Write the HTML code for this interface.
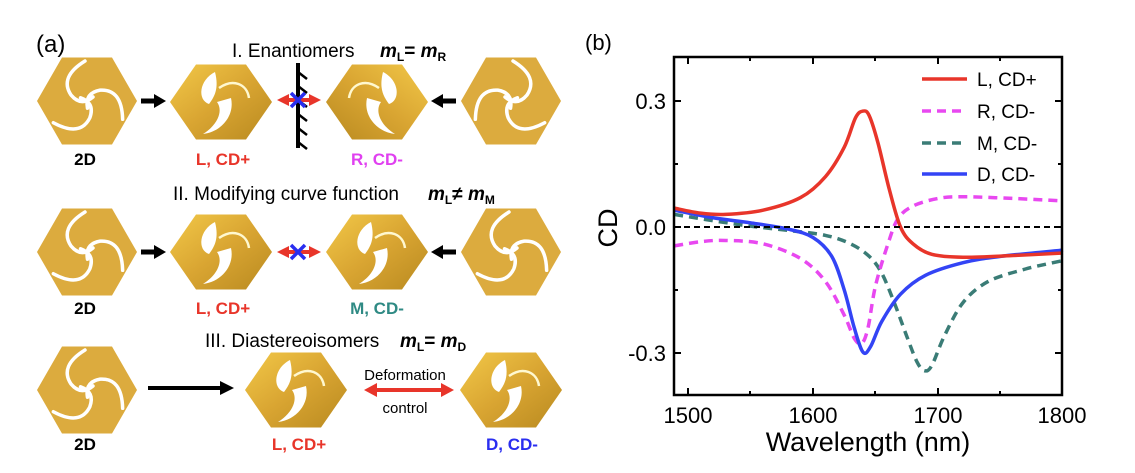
<!DOCTYPE html>
<html><head><meta charset="utf-8"><style>
html,body{margin:0;padding:0;background:#fff;}
svg{display:block;font-family:"Liberation Sans",Arial,sans-serif;}
</style></head><body>
<svg id="s" width="1135" height="473" viewBox="0 0 1135 473" xmlns="http://www.w3.org/2000/svg">
<defs>
<linearGradient id="g3" x1="0" y1="0" x2="1" y2="1">
<stop offset="0" stop-color="#f2c848"/><stop offset="0.5" stop-color="#d9a532"/><stop offset="1" stop-color="#b98a20"/>
</linearGradient>
<g id="h2">
<polygon points="-50,0 -25,-43.5 25,-43.5 50,0 25,43.5 -25,43.5" fill="#dcab3e"/>
<g fill="none" stroke="#fff" stroke-width="3.5" stroke-linecap="round">
<path id="arm" d="M -2,-40 Q -28,-24 -16,-6 Q -6,6 6,-4"/>
<use href="#arm" transform="rotate(120)"/>
<use href="#arm" transform="rotate(240)"/>
</g>
</g>
<g id="h3">
<polygon points="-51,0 -25,-37.5 25,-37.5 51,0 25,37.5 -25,37.5" fill="url(#g3)"/>
<path d="M -6,-30 C -22,-22 -24,-2 -12,2 C -6,-6 -2,-14 -6,-30 Z" fill="#fff"/>
<path d="M 10,-4 C 14,14 0,30 -18,32 C -2,22 2,8 -4,0 Z" fill="#fff"/>
<path d="M -2,-14 C 12,-24 26,-18 28,-4" fill="none" stroke="#fff8d0" stroke-width="2.5"/>
</g>
</defs>

<text x="36" y="52" font-size="24">(a)</text>

<text x="232" y="57" font-size="19">I. Enantiomers</text>
<text x="380" y="57" font-size="19" font-weight="bold" font-style="italic">m<tspan font-size="12" dy="4" font-style="normal">L</tspan><tspan dy="-4" font-style="normal">= </tspan>m<tspan font-size="12" dy="4" font-style="normal">R</tspan></text>
<use href="#h2" x="87" y="101"/>
<use href="#h3" x="221" y="102"/>
<use href="#h3" x="377" y="102" transform="translate(754,0) scale(-1,1)"/>
<use href="#h2" x="511" y="101" transform="translate(1022,0) scale(-1,1)"/>
<path d="M141,101 h15" stroke="#000" stroke-width="5"/><polygon points="154,94 166,101 154,108" fill="#000"/>
<path d="M441,101 h15" stroke="#000" stroke-width="5"/><polygon points="443,94 431,101 443,108" fill="#000"/>
<line x1="298" y1="63" x2="298" y2="148" stroke="#000" stroke-width="4"/>
<g stroke="#000" stroke-width="2.5"><line x1="298" y1="72" x2="307" y2="79"/><line x1="298" y1="86" x2="307" y2="93"/><line x1="298" y1="100" x2="307" y2="107"/><line x1="298" y1="114" x2="307" y2="121"/><line x1="298" y1="128" x2="307" y2="135"/><line x1="298" y1="142" x2="307" y2="149"/></g>
<line x1="286" y1="100" x2="312" y2="100" stroke="#e8352a" stroke-width="4"/>
<polygon points="277,100 289,94 289,106" fill="#e8352a"/><polygon points="321,100 309,94 309,106" fill="#e8352a"/>
<g stroke="#2a2ef0" stroke-width="3.5"><line x1="291" y1="93" x2="305" y2="107"/><line x1="305" y1="93" x2="291" y2="107"/></g>
<text x="85" y="165" font-size="17" font-weight="bold" text-anchor="middle">2D</text>
<text x="223" y="165" font-size="17" font-weight="bold" text-anchor="middle" fill="#e8352a">L, CD+</text>
<text x="377" y="165" font-size="17" font-weight="bold" text-anchor="middle" fill="#e040f0">R, CD-</text>

<text x="173" y="200" font-size="19">II. Modifying curve function</text>
<text x="428" y="200" font-size="19" font-weight="bold" font-style="italic">m<tspan font-size="12" dy="4" font-style="normal">L</tspan><tspan dy="-4" font-style="normal">≠ </tspan>m<tspan font-size="12" dy="4" font-style="normal">M</tspan></text>
<use href="#h2" x="87" y="252"/>
<use href="#h3" x="221" y="252"/>
<use href="#h3" x="377" y="252"/>
<use href="#h2" x="511" y="252"/>
<path d="M141,252 h15" stroke="#000" stroke-width="5"/><polygon points="154,245 166,252 154,259" fill="#000"/>
<path d="M441,252 h15" stroke="#000" stroke-width="5"/><polygon points="443,245 431,252 443,259" fill="#000"/>
<line x1="286" y1="252" x2="312" y2="252" stroke="#e8352a" stroke-width="4"/>
<polygon points="277,252 289,246 289,258" fill="#e8352a"/><polygon points="321,252 309,246 309,258" fill="#e8352a"/>
<g stroke="#2a2ef0" stroke-width="3.5"><line x1="291" y1="245" x2="305" y2="259"/><line x1="305" y1="245" x2="291" y2="259"/></g>
<text x="85" y="314" font-size="17" font-weight="bold" text-anchor="middle">2D</text>
<text x="223" y="314" font-size="17" font-weight="bold" text-anchor="middle" fill="#e8352a">L, CD+</text>
<text x="377" y="314" font-size="17" font-weight="bold" text-anchor="middle" fill="#2f8a84">M, CD-</text>

<text x="205" y="347" font-size="19">III. Diastereoisomers</text>
<text x="400" y="347" font-size="19" font-weight="bold" font-style="italic">m<tspan font-size="12" dy="4" font-style="normal">L</tspan><tspan dy="-4" font-style="normal">= </tspan>m<tspan font-size="12" dy="4" font-style="normal">D</tspan></text>
<use href="#h2" x="87" y="390"/>
<use href="#h3" x="296" y="390"/>
<use href="#h3" x="511" y="390"/>
<path d="M148,388 h74" stroke="#000" stroke-width="4"/><polygon points="220,381 234,388 220,395" fill="#000"/>
<line x1="372" y1="390" x2="446" y2="390" stroke="#e8352a" stroke-width="4"/>
<polygon points="364,390 377,383 377,397" fill="#e8352a"/><polygon points="454,390 441,383 441,397" fill="#e8352a"/>
<text x="405" y="380" font-size="15" text-anchor="middle">Deformation</text>
<text x="405" y="413" font-size="15" text-anchor="middle">control</text>
<text x="85" y="450" font-size="17" font-weight="bold" text-anchor="middle">2D</text>
<text x="299" y="450" font-size="17" font-weight="bold" text-anchor="middle" fill="#e8352a">L, CD+</text>
<text x="512" y="450" font-size="17" font-weight="bold" text-anchor="middle" fill="#2a2ef0">D, CD-</text>

<text x="585" y="50" font-size="22">(b)</text>
<g id="curves"></g>
<line x1="674" y1="227" x2="1062" y2="227" stroke="#000" stroke-width="2" stroke-dasharray="6,4"/>
<rect x="674" y="57" width="388" height="338" fill="none" stroke="#000" stroke-width="2.5"/>
<g stroke="#000" stroke-width="2">
<line x1="688" y1="395" x2="688" y2="388"/><line x1="750" y1="395" x2="750" y2="391"/><line x1="813" y1="395" x2="813" y2="388"/><line x1="875" y1="395" x2="875" y2="391"/><line x1="938" y1="395" x2="938" y2="388"/><line x1="1000" y1="395" x2="1000" y2="391"/>
<line x1="688" y1="57" x2="688" y2="64"/><line x1="750" y1="57" x2="750" y2="61"/><line x1="813" y1="57" x2="813" y2="64"/><line x1="875" y1="57" x2="875" y2="61"/><line x1="938" y1="57" x2="938" y2="64"/><line x1="1000" y1="57" x2="1000" y2="61"/>
<line x1="674" y1="101" x2="681" y2="101"/><line x1="674" y1="164" x2="678" y2="164"/><line x1="674" y1="227" x2="681" y2="227"/><line x1="674" y1="290" x2="678" y2="290"/><line x1="674" y1="353" x2="681" y2="353"/>
<line x1="1062" y1="101" x2="1055" y2="101"/><line x1="1062" y1="164" x2="1058" y2="164"/><line x1="1062" y1="227" x2="1055" y2="227"/><line x1="1062" y1="290" x2="1058" y2="290"/><line x1="1062" y1="353" x2="1055" y2="353"/>
</g>
<g font-size="22" text-anchor="end">
<text x="666" y="109">0.3</text><text x="666" y="235">0.0</text><text x="666" y="361">-0.3</text>
</g>
<g font-size="22" text-anchor="middle">
<text x="688" y="423">1500</text><text x="813" y="423">1600</text><text x="938" y="423">1700</text><text x="1062" y="423">1800</text>
</g>
<text x="868" y="451" font-size="27" text-anchor="middle">Wavelength (nm)</text>
<text x="0" y="0" font-size="27" text-anchor="middle" transform="translate(617,228) rotate(-90)">CD</text>
<g stroke-width="3.5" fill="none">
<line x1="922" y1="79" x2="967" y2="79" stroke="#e8352a"/>
<line x1="922" y1="111" x2="967" y2="111" stroke="#e848f0" stroke-dasharray="9,6"/>
<line x1="922" y1="143" x2="967" y2="143" stroke="#3a7c76" stroke-dasharray="9,6"/>
<line x1="922" y1="174" x2="967" y2="174" stroke="#3344f5"/>
</g>
<g font-size="19">
<text x="977" y="86">L, CD+</text><text x="977" y="118">R, CD-</text><text x="977" y="150">M, CD-</text><text x="977" y="181">D, CD-</text>
</g>
</svg>
<script>
var X=function(w){return 688+(w-1500)*1.25},Y=function(v){return 227-v*420};
function path(p){var q=p.map(function(a){return [X(a[0]),Y(a[1])]});var d="M"+q[0][0]+","+q[0][1];
for(var i=0;i<q.length-1;i++){var p0=q[i-1]||q[i],p1=q[i],p2=q[i+1],p3=q[i+2]||q[i+1];
d+=" C"+(p1[0]+(p2[0]-p0[0])/6)+","+(p1[1]+(p2[1]-p0[1])/6)+" "+(p2[0]-(p3[0]-p1[0])/6)+","+(p2[1]-(p3[1]-p1[1])/6)+" "+p2[0]+","+p2[1];}return d;}
var S={
M:[[1489,0.03],[1520,0.015],[1550,0.002],[1580,-0.008],[1610,-0.02],[1630,-0.04],[1645,-0.07],[1655,-0.11],[1665,-0.18],[1675,-0.26],[1683,-0.32],[1689,-0.342],[1695,-0.33],[1705,-0.26],[1720,-0.18],[1740,-0.13],[1770,-0.1],[1800,-0.08]],
R:[[1489,-0.045],[1510,-0.035],[1530,-0.032],[1560,-0.04],[1590,-0.075],[1610,-0.13],[1625,-0.21],[1633,-0.265],[1639,-0.277],[1644,-0.24],[1650,-0.14],[1660,-0.04],[1668,0.02],[1680,0.05],[1700,0.068],[1720,0.072],[1760,0.068],[1800,0.062]],
D:[[1489,0.04],[1520,0.022],[1550,0.01],[1580,-0.005],[1600,-0.025],[1615,-0.07],[1625,-0.15],[1633,-0.24],[1640,-0.298],[1646,-0.285],[1655,-0.225],[1670,-0.16],[1690,-0.115],[1720,-0.085],[1750,-0.07],[1800,-0.055]],
L:[[1489,0.045],[1510,0.033],[1530,0.03],[1560,0.04],[1590,0.07],[1610,0.12],[1625,0.19],[1634,0.26],[1640,0.276],[1645,0.265],[1652,0.2],[1661,0.09],[1670,0.0],[1680,-0.04],[1695,-0.065],[1720,-0.072],[1760,-0.068],[1800,-0.062]]};
var st={M:['#3a7c76','9,6'],R:['#e848f0','9,6'],D:['#3344f5',''],L:['#e8352a','']};
var g=document.getElementById('curves'),h='';
['M','R','D','L'].forEach(function(k){h+='<path d="'+path(S[k])+'" fill="none" stroke="'+st[k][0]+'" stroke-width="3.5"'+(st[k][1]?' stroke-dasharray="'+st[k][1]+'"':'')+'/>';});
g.innerHTML=h;
</script>
</body></html>
